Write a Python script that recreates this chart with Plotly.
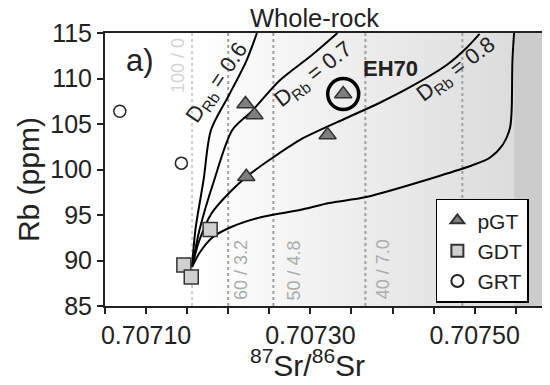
import numpy as np
import plotly.graph_objects as go

FONT = "Liberation Sans, Arial, sans-serif"
INK = "#222222"

# ---------------- data ----------------
pgt_sr = [0.707221, 0.707232, 0.707222, 0.707321, 0.707340]
pgt_rb = [107.2, 106.0, 99.2, 103.8, 108.3]

gdt_sr = [0.707146, 0.707155, 0.707178]
gdt_rb = [89.5, 88.2, 93.4]

grt_sr = [0.707068, 0.707143]
grt_rb = [106.4, 100.7]

eh70_sr = [0.707340]
eh70_rb = [108.3]

# AFC / mixing curves
curve_a_sr = [0.707156, 0.707160, 0.707170, 0.707179, 0.707201, 0.707222, 0.707235]
curve_a_rb = [89.3, 93.35, 98.85, 104.34, 108.19, 111.92, 115.0]

curve_b_sr = [0.707156, 0.707165, 0.707183, 0.707205, 0.707229, 0.707262, 0.707302, 0.707333]
curve_b_rb = [89.3, 93.35, 98.85, 104.34, 106.43, 109.73, 112.58, 115.0]

curve_c_sr = [0.707156, 0.707165, 0.707180, 0.707201, 0.707222, 0.707250,
              0.707287, 0.707344, 0.707384, 0.707424, 0.707466, 0.707490, 0.707506]
curve_c_rb = [89.3, 92.25, 95.22, 97.42, 99.18, 101.04,
              103.24, 105.66, 107.31, 109.18, 111.48, 113.35, 114.9]

curve_d_sr = [0.707156, 0.707165, 0.707180, 0.707201, 0.707241, 0.707287, 0.707323,
              0.707368, 0.707457, 0.707498, 0.707518, 0.707534, 0.707543, 0.707545,
              0.707546, 0.707548]
curve_d_rb = [89.3, 90.82, 92.47, 93.57, 94.78, 95.55, 96.32,
              96.98, 99.29, 100.49, 101.26, 102.69, 104.56, 106.43,
              111.92, 115.0]

# mixing proportions (vertical reference lines)
mix_sr = [0.707156, 0.707200, 0.707255, 0.707367, 0.707485]
mix_labels = ["100 / 0", "60 / 3.2", "50 / 4.8", "40 / 7.0"]

d_labels = ["D<sub>Rb</sub> = 0.6", "D<sub>Rb</sub> = 0.7", "D<sub>Rb</sub> = 0.8"]

x_range = [0.70705, 0.707582]
y_range = [85, 115]

fig = go.Figure()

# background gradient
edges = list(np.linspace(mix_sr[0], curve_d_sr[-1], 81)) + [x_range[1] + 0.00001]
zrow = list(np.linspace(0, 0.85, 80)) + [1.0]
fig.add_trace(go.Heatmap(
    x=edges, y=y_range, z=[zrow], zmin=0, zmax=1,
    colorscale=[[0, "#ffffff"], [0.85, "#dcdcdc"], [1, "#cccccc"]],
    showscale=False, hoverinfo="skip"))

# dashed vertical lines
for i, v in enumerate(mix_sr):
    fig.add_trace(go.Scatter(
        x=[v, v], y=y_range, mode="lines", showlegend=False, hoverinfo="skip",
        line=dict(color="#cfcfcf" if i == 0 else "#a0a0a0", width=2, dash="dot")))

# curves
for xs, ys in [(curve_a_sr, curve_a_rb), (curve_b_sr, curve_b_rb),
               (curve_c_sr, curve_c_rb), (curve_d_sr, curve_d_rb)]:
    fig.add_trace(go.Scatter(
        x=xs, y=ys, mode="lines", showlegend=False, hoverinfo="skip",
        line=dict(color="black", width=2, shape="spline", smoothing=0.8)))

# samples
fig.add_trace(go.Scatter(
    x=pgt_sr, y=pgt_rb, mode="markers", name="pGT",
    marker=dict(symbol="triangle-up", size=15, color="#7f7f7f",
                line=dict(color="#333333", width=1.5))))
fig.add_trace(go.Scatter(
    x=gdt_sr, y=gdt_rb, mode="markers", name="GDT",
    marker=dict(symbol="square", size=14, color="#d0d0d0",
                line=dict(color="#333333", width=1.5))))
fig.add_trace(go.Scatter(
    x=grt_sr, y=grt_rb, mode="markers", name="GRT",
    marker=dict(symbol="circle", size=12, color="white",
                line=dict(color="#222222", width=1.5))))
fig.add_trace(go.Scatter(
    x=eh70_sr, y=eh70_rb, mode="markers", showlegend=False, hoverinfo="skip",
    marker=dict(symbol="circle-open", size=31, color="black", line=dict(width=3.5))))

C = dict(xanchor="center", yanchor="middle", showarrow=False)
ann = []
# mixing labels
mix_lab_x = [0.707138, 0.707215, 0.707279, 0.707388]
mix_lab_y = [111.4, 88.9, 88.9, 89.0]
for i in range(len(mix_labels)):
    ann.append(dict(x=mix_lab_x[i], y=mix_lab_y[i], xref="x", yref="y",
                    text=mix_labels[i], textangle=-90,
                    font=dict(family=FONT, size=18,
                              color="#d4d4d4" if i == 0 else "#ababab"), **C))
# D labels
d_x = [0.707187, 0.707304, 0.707478]
d_y = [109.5, 110.4, 110.9]
d_ang = [-56, -38, -37]
for i in range(3):
    ann.append(dict(x=d_x[i], y=d_y[i], xref="x", yref="y", text=d_labels[i],
                    textangle=d_ang[i], font=dict(family=FONT, size=22, color=INK), **C))
# EH70
ann.append(dict(x=0.707398, y=111.1, xref="x", yref="y", text="<b>EH70</b>",
                font=dict(family=FONT, size=22, color=INK), **C))
# a)
ann.append(dict(x=0.080, y=0.901, xref="paper", yref="paper", text="a)",
                font=dict(family=FONT, size=31, color=INK), **C))
# title
ann.append(dict(x=0.4805, y=1.055, xref="paper", yref="paper", text="Whole-rock",
                borderpad=0, font=dict(family=FONT, size=25.5, color=INK), **C))
# axis titles
ann.append(dict(x=-0.176, y=0.4615, xref="paper", yref="paper", text="Rb (ppm)",
                textangle=-90, font=dict(family=FONT, size=30, color=INK), **C))
ann.append(dict(x=0.4645, y=-0.207, xref="paper", yref="paper",
                text="<sup>87</sup>Sr/<sup>86</sup>Sr",
                font=dict(family=FONT, size=30, color=INK), **C))

fig.update_layout(
    width=542, height=377,
    margin=dict(l=97, r=8, t=25, b=79, autoexpand=False),
    paper_bgcolor="white", plot_bgcolor="white",
    font=dict(family=FONT, color=INK),
    showlegend=True,
    legend=dict(x=0.97, xanchor="right", y=0.012, yanchor="bottom",
                bgcolor="white", bordercolor="black", borderwidth=1.5,
                font=dict(family=FONT, size=21, color=INK),
                tracegroupgap=0, itemsizing="constant"),
    annotations=ann,
)
fig.update_xaxes(
    range=x_range, showgrid=False, zeroline=False, automargin=False,
    showline=True, linecolor=INK, linewidth=2, mirror=True,
    ticks="outside", ticklen=6, tickwidth=1.5, tickcolor=INK,
    tick0=0.7071, dtick=0.0002, tickformat=".5f",
    tickfont=dict(family=FONT, size=25, color=INK),
    minor=dict(ticks="outside", ticklen=6, tickwidth=1.5, tickcolor=INK,
               tick0=0.7071, dtick=0.00005, showgrid=False),
)
fig.update_yaxes(
    range=y_range, showgrid=False, zeroline=False, automargin=False,
    showline=True, linecolor=INK, linewidth=2, mirror=True,
    ticks="outside", ticklen=6, tickwidth=1.5, tickcolor=INK,
    tick0=85, dtick=5,
    tickfont=dict(family=FONT, size=25, color=INK),
)

fig.write_html("out.html")
